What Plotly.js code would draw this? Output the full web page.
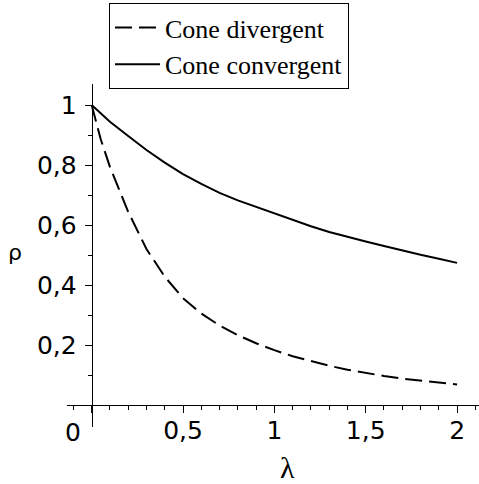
<!DOCTYPE html>
<html>
<head>
<meta charset="utf-8">
<script src="https://cdn.plot.ly/plotly-3.0.1.min.js"></script>
<style>html,body{margin:0;padding:0;background:#fff;}#chart{width:479px;height:484px;}</style>
</head>
<body>
<div id="chart"></div>
<script>
const lambdaVals = [0, 0.05, 0.1, 0.2, 0.3, 0.4, 0.5, 0.6, 0.7, 0.8, 0.9, 1.0, 1.1, 1.2, 1.3, 1.4, 1.5, 1.6, 1.7, 1.8, 1.9, 2.0];
const rhoDivergent = [1, 0.885, 0.794, 0.644, 0.52, 0.428, 0.356, 0.305, 0.265, 0.233, 0.206, 0.183, 0.163, 0.146, 0.131, 0.118, 0.107, 0.097, 0.088, 0.081, 0.075, 0.069];
const rhoConvergent = [1, 0.972, 0.944, 0.897, 0.850, 0.808, 0.770, 0.737, 0.707, 0.682, 0.660, 0.640, 0.616, 0.596, 0.577, 0.560, 0.545, 0.530, 0.515, 0.501, 0.488, 0.474];
const seriesNames = ['Cone divergent', 'Cone convergent'];
const xTickVals = [0, 0.5, 1, 1.5, 2];
const xTickText = ['', '0,5', '1', '1,5', '2'];
const yTickVals = [0.2, 0.4, 0.6, 0.8, 1];
const yTickText = ['0,2', '0,4', '0,6', '0,8', '1'];
const xTitle = 'λ';
const yTitle = 'ρ';
const originLabel = '0';

const W = 479, H = 484;
const M = {l: 67, r: 0, t: 84, b: 57};
const plotW = W - M.l - M.r, plotH = H - M.t - M.b;
const xRange = [-0.135, 2.12];
const yRange = [-0.073, 1.07];
const xAxisPos = (0 - yRange[0]) / (yRange[1] - yRange[0]);
const yAxisPos = (0 - xRange[0]) / (xRange[1] - xRange[0]);
const pxToPaperX = px => (px - M.l) / plotW;
const pxToPaperY = py => (H - M.b - py) / plotH;

const tickFont = {family: 'DejaVu Sans', size: 25, color: '#000'};

const traces = [
  {x: lambdaVals, y: rhoDivergent, name: seriesNames[0], mode: 'lines',
   line: {color: '#000', width: 2, dash: '17px,7px'}},
  {x: lambdaVals, y: rhoConvergent, name: seriesNames[1], mode: 'lines',
   line: {color: '#000', width: 2}}
];

const layout = {
  width: W, height: H,
  margin: {l: M.l, r: M.r, t: M.t, b: M.b, pad: 0, autoexpand: false},
  paper_bgcolor: '#fff', plot_bgcolor: '#fff',
  separators: ', ',
  showlegend: true,
  legend: {
    xref: 'container', yref: 'container',
    x: 109/W, y: 1 - 3/H, xanchor: 'left', yanchor: 'top',
    bordercolor: '#000', borderwidth: 1, bgcolor: '#fff',
    font: {family: 'Liberation Serif', size: 26, color: '#000'},
    tracegroupgap: 0, itemwidth: 45
  },
  xaxis: {
    range: xRange, anchor: 'free', position: xAxisPos,
    showline: true, linecolor: '#000', linewidth: 1,
    showgrid: false, zeroline: false,
    tickmode: 'array', tickvals: xTickVals, ticktext: xTickText,
    ticks: 'outside', ticklen: 7, tickwidth: 1, tickcolor: '#000',
    tickfont: tickFont, ticklabelstandoff: -4,
    minor: {tickmode: 'linear', tick0: 0, dtick: 0.1, ticks: 'outside', ticklen: 4, tickcolor: '#000', showgrid: false}
  },
  yaxis: {
    range: yRange, anchor: 'free', position: yAxisPos,
    showline: true, linecolor: '#000', linewidth: 1,
    showgrid: false, zeroline: false,
    tickmode: 'array', tickvals: yTickVals, ticktext: yTickText,
    ticks: 'outside', ticklen: 7, tickwidth: 1, tickcolor: '#000',
    tickfont: tickFont, ticklabelstandoff: 3,
    minor: {tickmode: 'linear', tick0: 0, dtick: 0.1, ticks: 'outside', ticklen: 4, tickcolor: '#000', showgrid: false}
  },
  annotations: [
    {text: originLabel, xref: 'paper', yref: 'paper', x: pxToPaperX(73), y: pxToPaperY(432), showarrow: false,
     xanchor: 'center', yanchor: 'middle', font: tickFont},
    {text: xTitle, xref: 'paper', yref: 'paper', x: pxToPaperX(287), y: pxToPaperY(467), showarrow: false,
     xanchor: 'center', yanchor: 'middle', font: {family: 'Liberation Serif', size: 30, color: '#000'}},
    {text: yTitle, xref: 'paper', yref: 'paper', x: pxToPaperX(15), y: pxToPaperY(252), showarrow: false,
     xanchor: 'center', yanchor: 'middle', font: {family: 'DejaVu Sans', size: 22, color: '#000'}}
  ]
};

Plotly.newPlot('chart', traces, layout, {staticPlot: true, displayModeBar: false});
</script>
</body>
</html>
